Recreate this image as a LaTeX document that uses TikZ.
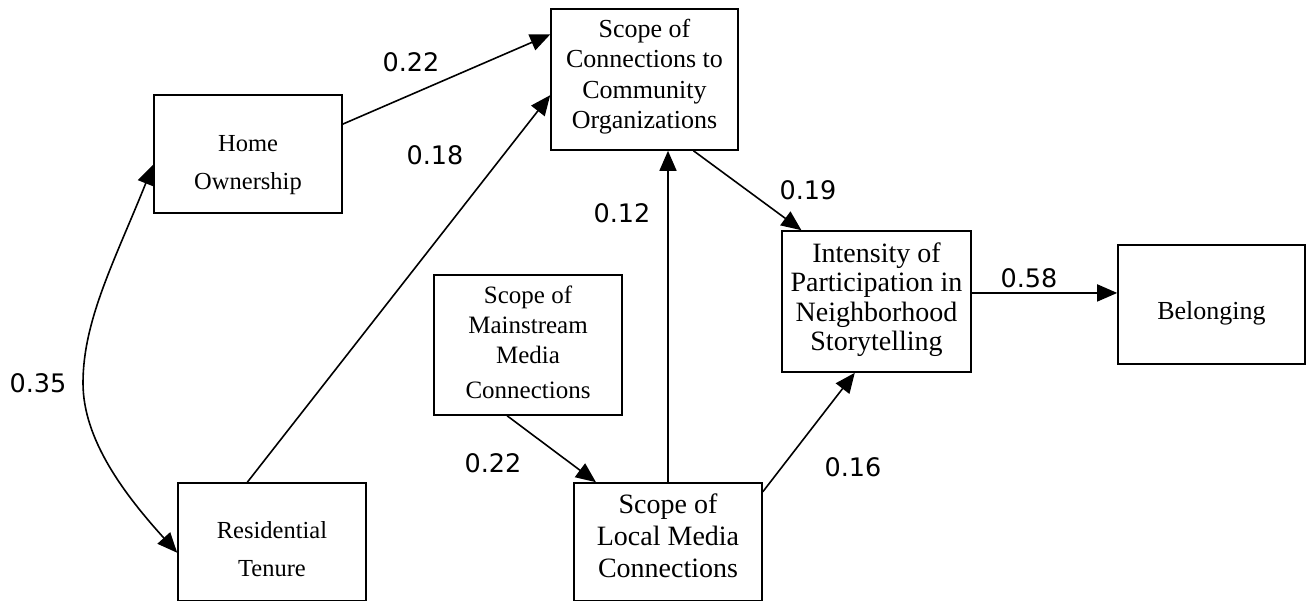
\documentclass[tikz,border=0pt]{standalone}
\usepackage{fontspec}
\setmainfont{Liberation Serif}
\newfontfamily\numfont{DejaVu Sans}
\usetikzlibrary{arrows.meta,calc}

\begin{document}
\begin{tikzpicture}[x=1pt,y=-1pt,
  box/.style={draw, line width=1.6pt, inner sep=0pt},
  lbl/.style={align=center, inner sep=0pt},
  num/.style={font=\numfont\fontsize{25.5}{30}\selectfont, inner sep=0pt},
  arr/.style={line width=1.6pt, -{Triangle[length=20pt,width=17pt]}},
  dbl/.style={line width=1.6pt, {Triangle[length=20pt,width=17pt]}-{Triangle[length=20pt,width=17pt]}}
]
\useasboundingbox (0,0) rectangle (1306,600);

% variables of the path model
\node[box, minimum width=188pt, minimum height=118pt,
  label={[lbl, font=\fontsize{24.5}{38}\selectfont, yshift=-11.4pt]center:Home\\Ownership}]
  (home) at (248,154) {};
\node[box, minimum width=187pt, minimum height=141pt,
  label={[lbl, font=\fontsize{26}{30.3}\selectfont, yshift=3pt]center:Scope of\\Connections to\\Community\\Organizations}]
  (conn) at (644.5,79.5) {};
\node[box, minimum width=189pt, minimum height=141pt,
  label={[lbl, font=\fontsize{28}{29.5}\selectfont, yshift=2pt]center:Intensity of\\Participation in\\Neighborhood\\Storytelling}]
  (intens) at (876.5,301.5) {};
\node[box, minimum width=187pt, minimum height=119pt,
  label={[lbl, font=\fontsize{26}{31}\selectfont, yshift=-9pt]center:Belonging}]
  (belong) at (1211.5,304.5) {};
\node[box, minimum width=188pt, minimum height=140pt,
  label={[lbl, font=\fontsize{25}{30}\selectfont, yshift=3pt]center:Scope of\\Mainstream\\Media\\[5pt]Connections}]
  (main) at (528,345) {};
\node[box, minimum width=188pt, minimum height=118pt,
  label={[lbl, font=\fontsize{28}{32}\selectfont, yshift=6.5pt]center:Scope of\\Local Media\\Connections}]
  (local) at (668,542) {};
\node[box, minimum width=188pt, minimum height=118pt,
  label={[lbl, font=\fontsize{24.5}{38}\selectfont, yshift=-6.7pt]center:Residential\\Tenure}]
  (resid) at (272,542) {};

% attachment points on the box borders
\coordinate (homeE) at ($(home.north east)!0.25!(home.south east)$);
\coordinate (homeW) at ($(home.north west)!0.59!(home.south west)$);
\coordinate (residN) at ($(resid.north west)!0.37!(resid.north east)$);
\coordinate (residW) at ($(resid.north west)!0.59!(resid.south west)$);
\coordinate (connW1) at ($(conn.north west)!0.184!(conn.south west)$);
\coordinate (connW2) at ($(conn.north west)!0.61!(conn.south west)$);
\coordinate (connS) at ($(conn.south west)!0.76!(conn.south east)$);
\coordinate (intensN) at ($(intens.north west)!0.106!(intens.north east)$);
\coordinate (intensS) at ($(intens.south west)!0.386!(intens.south east)$);
\coordinate (intensE) at ($(intens.north east)!0.44!(intens.south east)$);
\coordinate (mainS) at ($(main.south west)!0.39!(main.south east)$);
\coordinate (localN) at ($(local.north west)!0.12!(local.north east)$);
\coordinate (localE) at ($(local.north east)!0.08!(local.south east)$);

% paths
\draw[arr] (homeE) -- (connW1);
\draw[arr] (residN) -- (connW2);
\draw[arr] (connS) -- (intensN);
\draw[arr] (local.north) -- (local.north |- conn.south);
\draw[arr] (mainS) -- (localN);
\draw[arr] (localE) -- (intensS);
\draw[arr] (intensE) -- (intensE -| belong.west);
\draw[dbl] (homeW) .. controls (115,260) and (83,320) .. (83,383)
  .. controls (83,440) and (125,495) .. (residW);

% path coefficients
\node[num] (c1) at (411,62) {0.22};
\node[num] (c2) at (435,155) {0.18};
\node[num] (c3) at (622,213) {0.12};
\node[num] (c4) at (808,190) {0.19};
\node[num] (c5) at (1029,278) {0.58};
\node[num] (c6) at (493,463) {0.22};
\node[num] (c7) at (853,467) {0.16};
\node[num] (c8) at (38,383) {0.35};
\end{tikzpicture}
\end{document}
